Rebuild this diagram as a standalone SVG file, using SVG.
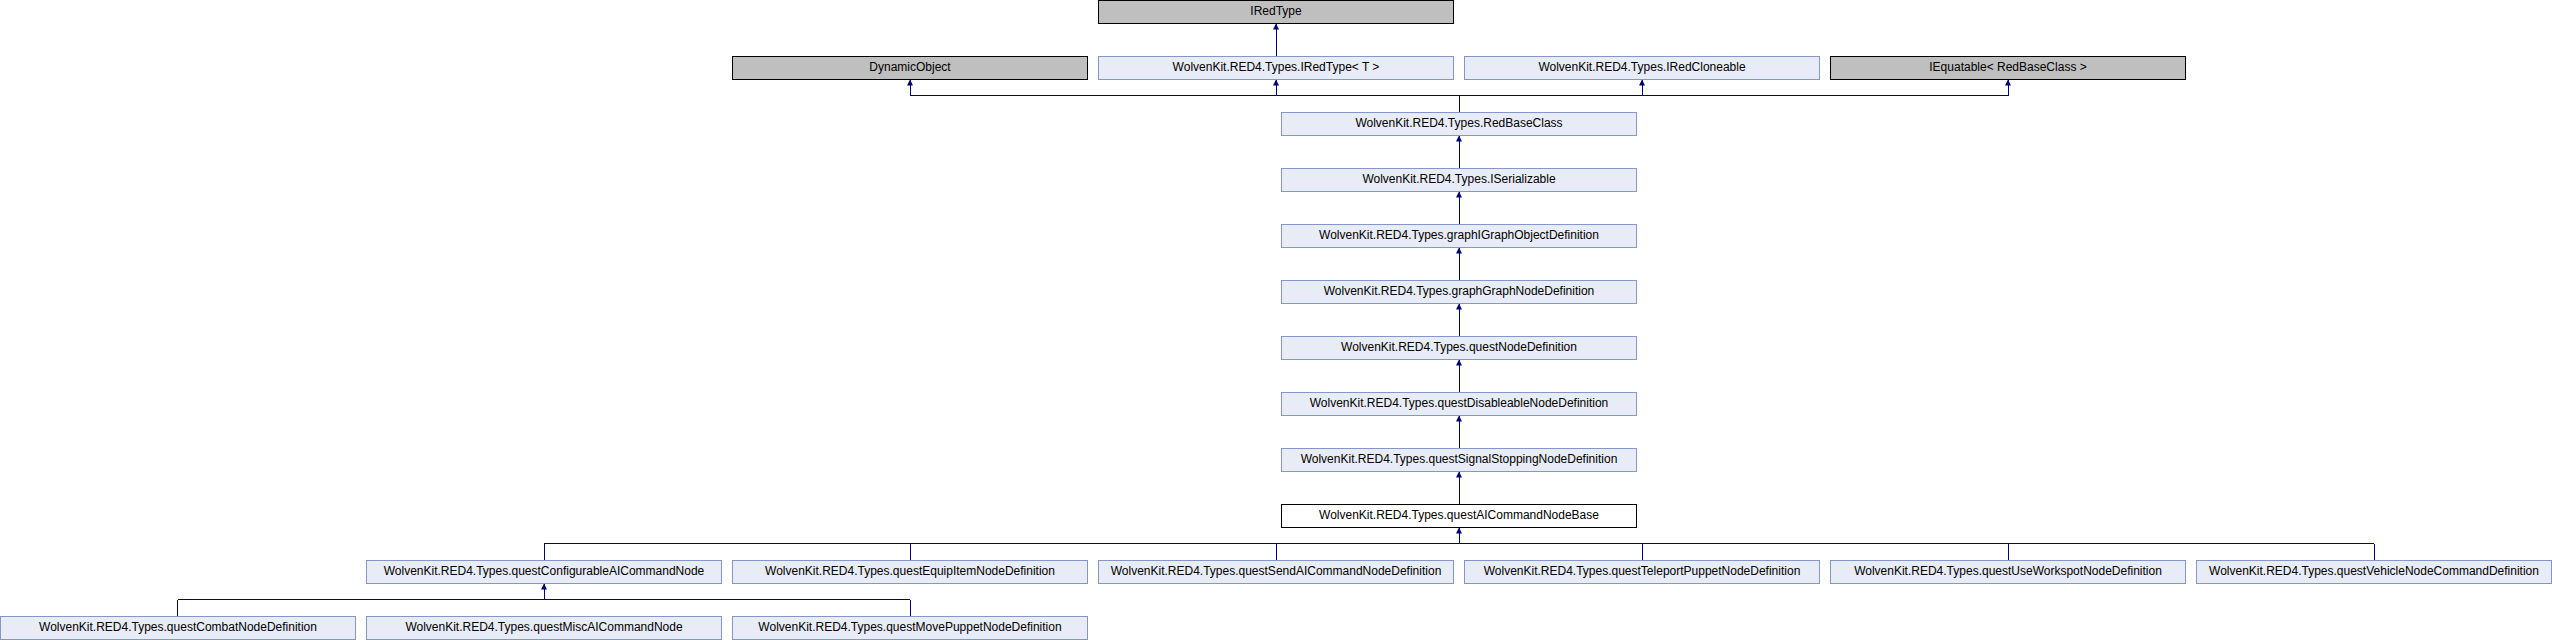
<svg xmlns="http://www.w3.org/2000/svg" width="2552" height="640" viewBox="0 0 2552 640">
<style>
.n rect{fill:#E8ECF6;stroke:#8496CC;stroke-width:1}
.g rect{fill:#BFBFBF;stroke:#000000;stroke-width:1}
.c rect{fill:#FFFFFF;stroke:#000000;stroke-width:1}
text{font-family:"Liberation Sans",Arial,sans-serif;font-size:12px;fill:#000;text-anchor:middle}
#edges path{fill:none;stroke:#000080;stroke-width:1;shape-rendering:crispEdges}
</style>
<defs>
<marker id="ah" markerUnits="userSpaceOnUse" markerWidth="8" markerHeight="8" refX="6" refY="3" orient="auto">
<path d="M0,0 L6,3 L0,6 z" fill="#000080"/>
</marker>
</defs>
<rect x="0" y="0" width="2552" height="640" fill="#FFFFFF"/>
<g id="edges">
<path d="M1276,56.5 V23.5" marker-end="url(#ah)"/>
<path d="M910,95.5 H2008"/>
<path d="M1459,112.5 V95.5"/>
<path d="M910,95.5 V79.5" marker-end="url(#ah)"/>
<path d="M1276,95.5 V79.5" marker-end="url(#ah)"/>
<path d="M1642,95.5 V79.5" marker-end="url(#ah)"/>
<path d="M2008,95.5 V79.5" marker-end="url(#ah)"/>
<path d="M1459,168.5 V135.5" marker-end="url(#ah)"/>
<path d="M1459,224.5 V191.5" marker-end="url(#ah)"/>
<path d="M1459,280.5 V247.5" marker-end="url(#ah)"/>
<path d="M1459,336.5 V303.5" marker-end="url(#ah)"/>
<path d="M1459,392.5 V359.5" marker-end="url(#ah)"/>
<path d="M1459,448.5 V415.5" marker-end="url(#ah)"/>
<path d="M1459,504.5 V471.5" marker-end="url(#ah)"/>
<path d="M544,543.5 H2374"/>
<path d="M1459,543.5 V527.5" marker-end="url(#ah)"/>
<path d="M544,560.5 V543.5"/>
<path d="M910,560.5 V543.5"/>
<path d="M1276,560.5 V543.5"/>
<path d="M1642,560.5 V543.5"/>
<path d="M2008,560.5 V543.5"/>
<path d="M2374,560.5 V543.5"/>
<path d="M177.5,599.5 H910"/>
<path d="M544,599.5 V583.5" marker-end="url(#ah)"/>
<path d="M177.5,616.5 V599.5"/>
<path d="M910,616.5 V599.5"/>
</g>
<g id="IRedType" class="g"><rect x="1098.5" y="0.5" width="355" height="23"/><text x="1276" y="14.5">IRedType</text></g>
<g id="DynamicObject" class="g"><rect x="732.5" y="56.5" width="355" height="23"/><text x="910" y="70.5">DynamicObject</text></g>
<g id="IRedTypeT" class="n"><rect x="1098.5" y="56.5" width="355" height="23"/><text x="1276" y="70.5">WolvenKit.RED4.Types.IRedType&lt; T &gt;</text></g>
<g id="IRedCloneable" class="n"><rect x="1464.5" y="56.5" width="355" height="23"/><text x="1642" y="70.5">WolvenKit.RED4.Types.IRedCloneable</text></g>
<g id="IEquatable" class="g"><rect x="1830.5" y="56.5" width="355" height="23"/><text x="2008" y="70.5">IEquatable&lt; RedBaseClass &gt;</text></g>
<g id="RedBaseClass" class="n"><rect x="1281.5" y="112.5" width="355" height="23"/><text x="1459" y="126.5">WolvenKit.RED4.Types.RedBaseClass</text></g>
<g id="ISerializable" class="n"><rect x="1281.5" y="168.5" width="355" height="23"/><text x="1459" y="182.5">WolvenKit.RED4.Types.ISerializable</text></g>
<g id="graphIGraphObjectDefinition" class="n"><rect x="1281.5" y="224.5" width="355" height="23"/><text x="1459" y="238.5">WolvenKit.RED4.Types.graphIGraphObjectDefinition</text></g>
<g id="graphGraphNodeDefinition" class="n"><rect x="1281.5" y="280.5" width="355" height="23"/><text x="1459" y="294.5">WolvenKit.RED4.Types.graphGraphNodeDefinition</text></g>
<g id="questNodeDefinition" class="n"><rect x="1281.5" y="336.5" width="355" height="23"/><text x="1459" y="350.5">WolvenKit.RED4.Types.questNodeDefinition</text></g>
<g id="questDisableableNodeDefinition" class="n"><rect x="1281.5" y="392.5" width="355" height="23"/><text x="1459" y="406.5">WolvenKit.RED4.Types.questDisableableNodeDefinition</text></g>
<g id="questSignalStoppingNodeDefinition" class="n"><rect x="1281.5" y="448.5" width="355" height="23"/><text x="1459" y="462.5">WolvenKit.RED4.Types.questSignalStoppingNodeDefinition</text></g>
<g id="questAICommandNodeBase" class="c"><rect x="1281.5" y="504.5" width="355" height="23"/><text x="1459" y="518.5">WolvenKit.RED4.Types.questAICommandNodeBase</text></g>
<g id="questConfigurableAICommandNode" class="n"><rect x="366.5" y="560.5" width="355" height="23"/><text x="544" y="574.5">WolvenKit.RED4.Types.questConfigurableAICommandNode</text></g>
<g id="questEquipItemNodeDefinition" class="n"><rect x="732.5" y="560.5" width="355" height="23"/><text x="910" y="574.5">WolvenKit.RED4.Types.questEquipItemNodeDefinition</text></g>
<g id="questSendAICommandNodeDefinition" class="n"><rect x="1098.5" y="560.5" width="355" height="23"/><text x="1276" y="574.5">WolvenKit.RED4.Types.questSendAICommandNodeDefinition</text></g>
<g id="questTeleportPuppetNodeDefinition" class="n"><rect x="1464.5" y="560.5" width="355" height="23"/><text x="1642" y="574.5">WolvenKit.RED4.Types.questTeleportPuppetNodeDefinition</text></g>
<g id="questUseWorkspotNodeDefinition" class="n"><rect x="1830.5" y="560.5" width="355" height="23"/><text x="2008" y="574.5">WolvenKit.RED4.Types.questUseWorkspotNodeDefinition</text></g>
<g id="questVehicleNodeCommandDefinition" class="n"><rect x="2196.5" y="560.5" width="355" height="23"/><text x="2374" y="574.5">WolvenKit.RED4.Types.questVehicleNodeCommandDefinition</text></g>
<g id="questCombatNodeDefinition" class="n"><rect x="0.5" y="616.5" width="355" height="23"/><text x="178" y="630.5">WolvenKit.RED4.Types.questCombatNodeDefinition</text></g>
<g id="questMiscAICommandNode" class="n"><rect x="366.5" y="616.5" width="355" height="23"/><text x="544" y="630.5">WolvenKit.RED4.Types.questMiscAICommandNode</text></g>
<g id="questMovePuppetNodeDefinition" class="n"><rect x="732.5" y="616.5" width="355" height="23"/><text x="910" y="630.5">WolvenKit.RED4.Types.questMovePuppetNodeDefinition</text></g>
</svg>
